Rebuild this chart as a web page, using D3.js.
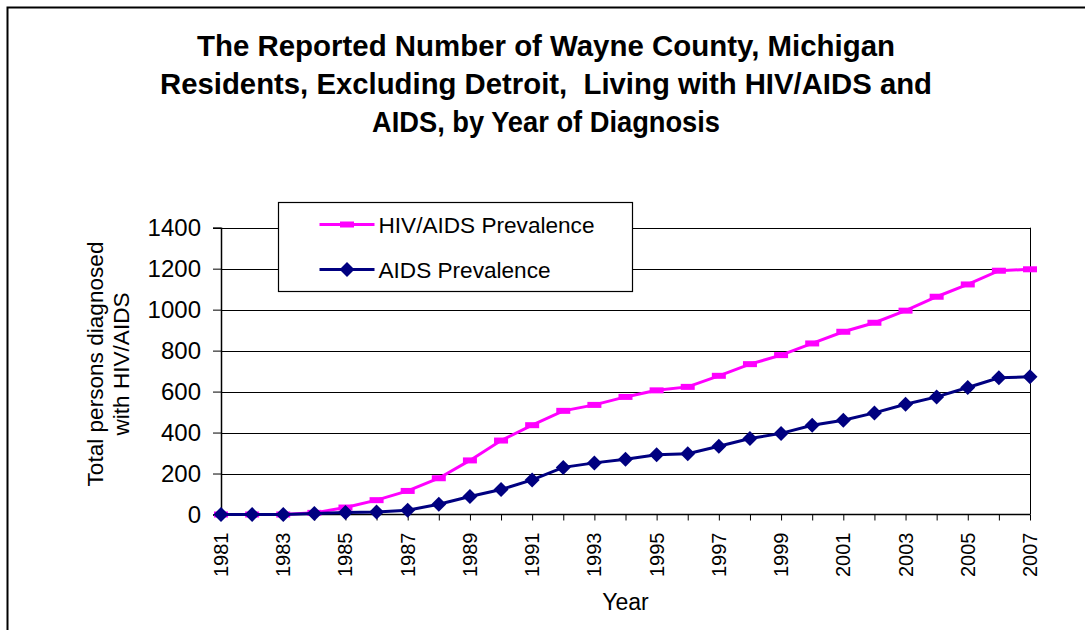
<!DOCTYPE html>
<html>
<head>
<meta charset="utf-8">
<script src="https://cdn.jsdelivr.net/npm/d3@7"></script>
<style>
  html, body { margin: 0; padding: 0; background: #fff; }
  svg { display: block; font-family: Arial, "Liberation Sans", sans-serif; }
  .title { white-space: pre; }
</style>
</head>
<body>
<div id="chart"></div>
<script>
const years = d3.range(1981, 2008);
const hivAids = [0, 0, 0, 8, 34, 70, 115, 177, 264, 361, 436, 506, 535, 574, 606, 623,
  677, 734, 778, 835, 892, 936, 995, 1063, 1123, 1190, 1197];
const aids = [0, 0, 0, 5, 10, 12, 21, 50, 88, 122, 169, 230, 252, 270, 292, 297,
  333, 371, 396, 436, 460, 496, 538, 574, 620, 667, 672];
const yTicks = [0, 200, 400, 600, 800, 1000, 1200, 1400];
const labelYears = years.filter(y => (y - 1981) % 2 === 0);
const titleLines = [
  'The Reported Number of Wayne County, Michigan',
  'Residents, Excluding Detroit,  Living with HIV/AIDS and',
  'AIDS, by Year of Diagnosis'
];
const titleWidths = [698, 772, 348];
const yTitleLines = ['Total persons diagnosed', 'with HIV/AIDS'];
const seriesNames = ['HIV/AIDS Prevalence', 'AIDS Prevalence'];

const width = 1085, height = 630;
const margin = { top: 227.7, right: 55, bottom: 115.5, left: 221 };

const svg = d3.select('#chart').append('svg')
  .attr('width', width)
  .attr('height', height);

// chart area border (runs off the right/bottom edge)
svg.append('rect')
  .attr('x', 7.5).attr('y', 7.5)
  .attr('width', width + 20).attr('height', height + 20)
  .attr('fill', 'none')
  .attr('stroke', '#000')
  .attr('stroke-width', 2);

const x = d3.scalePoint()
  .domain(years)
  .range([margin.left, width - margin.right]);

const y = d3.scaleLinear()
  .domain([0, 1400])
  .range([height - margin.bottom, margin.top]);

// title
svg.append('g')
  .selectAll('text')
  .data(titleLines)
  .join('text')
    .attr('class', 'title')
    .attr('x', 546)
    .attr('y', (d, i) => 56 + i * 38)
    .attr('text-anchor', 'middle')
    .attr('font-size', 29)
    .attr('font-weight', 'bold')
    .attr('textLength', (d, i) => titleWidths[i])
    .attr('lengthAdjust', 'spacingAndGlyphs')
    .text(d => d);

// gridlines
svg.append('g')
  .selectAll('line')
  .data(yTicks.slice(1))
  .join('line')
    .attr('x1', margin.left)
    .attr('x2', width - margin.right)
    .attr('y1', d => Math.round(y(d)) + 0.5)
    .attr('y2', d => Math.round(y(d)) + 0.5)
    .attr('stroke', '#000')
    .attr('stroke-width', 1);

// right edge of plot area
svg.append('line')
  .attr('x1', x(2007) + 0.5).attr('x2', x(2007) + 0.5)
  .attr('y1', y(1400)).attr('y2', y(0))
  .attr('stroke', '#000');

// y axis
svg.append('g')
  .attr('transform', `translate(${margin.left},0)`)
  .call(d3.axisLeft(y).tickValues(yTicks).tickSize(8).tickPadding(12).tickFormat(d3.format('d')))
  .call(g => g.select('.domain').attr('stroke-width', 1.5))
  .call(g => g.selectAll('.tick line').attr('stroke-width', 1))
  .call(g => g.selectAll('.tick text')
    .attr('font-size', 24)
    .attr('font-family', 'Arial, "Liberation Sans", sans-serif')
    .attr('fill', '#000'));

// x axis: a tick for every year, label for every other year
const xAxis = svg.append('g')
  .attr('transform', `translate(0,${y(0)})`)
  .call(d3.axisBottom(x).tickSize(6).tickFormat(''))
  .call(g => g.select('.domain').attr('d', `M${x(1981)},0H${x(2007)}`).attr('stroke-width', 1.5));

xAxis.selectAll('.label')
  .data(labelYears)
  .join('text')
    .attr('class', 'label')
    .attr('transform', d => `translate(${x(d) + 7},18) rotate(-90)`)
    .attr('text-anchor', 'end')
    .attr('font-size', 20)
    .attr('fill', '#000')
    .text(d => d);

// axis titles
svg.append('text')
  .attr('x', (x(1981) + x(2007)) / 2)
  .attr('y', 610)
  .attr('text-anchor', 'middle')
  .attr('font-size', 23)
  .text('Year');

svg.append('g')
  .attr('transform', 'translate(103,364) rotate(-90)')
  .selectAll('text')
  .data(yTitleLines)
  .join('text')
    .attr('x', 0)
    .attr('y', (d, i) => i * 26)
    .attr('text-anchor', 'middle')
    .attr('font-size', 22.6)
    .text(d => d);

// series
const line = d3.line()
  .x((d, i) => x(years[i]))
  .y(d => y(d));

svg.append('path')
  .datum(hivAids)
  .attr('d', line)
  .attr('fill', 'none')
  .attr('stroke', '#ff00ff')
  .attr('stroke-width', 3);

svg.append('g')
  .selectAll('rect')
  .data(hivAids)
  .join('rect')
    .attr('x', (d, i) => x(years[i]) - 7)
    .attr('y', d => y(d) - 3)
    .attr('width', 14)
    .attr('height', 6)
    .attr('fill', '#ff00ff');

svg.append('path')
  .datum(aids)
  .attr('d', line)
  .attr('fill', 'none')
  .attr('stroke', '#000080')
  .attr('stroke-width', 3);

const diamond = 'M0,-7.5L7.5,0L0,7.5L-7.5,0Z';

svg.append('g')
  .selectAll('path')
  .data(aids)
  .join('path')
    .attr('transform', (d, i) => `translate(${x(years[i])},${y(d)})`)
    .attr('d', diamond)
    .attr('fill', '#000080');

// legend
const legend = svg.append('g').attr('transform', 'translate(278.5,202.5)');

legend.append('rect')
  .attr('width', 354)
  .attr('height', 89)
  .attr('fill', '#fff')
  .attr('stroke', '#000')
  .attr('stroke-width', 1.2);

const items = legend.selectAll('.item')
  .data(seriesNames)
  .join('g')
    .attr('class', 'item')
    .attr('transform', (d, i) => `translate(0,${22 + i * 45})`);

items.append('line')
  .attr('x1', 41).attr('x2', 96)
  .attr('stroke', (d, i) => i === 0 ? '#ff00ff' : '#000080')
  .attr('stroke-width', 3);

items.filter((d, i) => i === 0).append('rect')
  .attr('x', 61.5).attr('y', -3).attr('width', 14).attr('height', 6)
  .attr('fill', '#ff00ff');

items.filter((d, i) => i === 1).append('path')
  .attr('transform', 'translate(68.5,0)')
  .attr('d', diamond)
  .attr('fill', '#000080');

items.append('text')
  .attr('x', 100)
  .attr('y', 8)
  .attr('font-size', 22.6)
  .text(d => d);
</script>
</body>
</html>
